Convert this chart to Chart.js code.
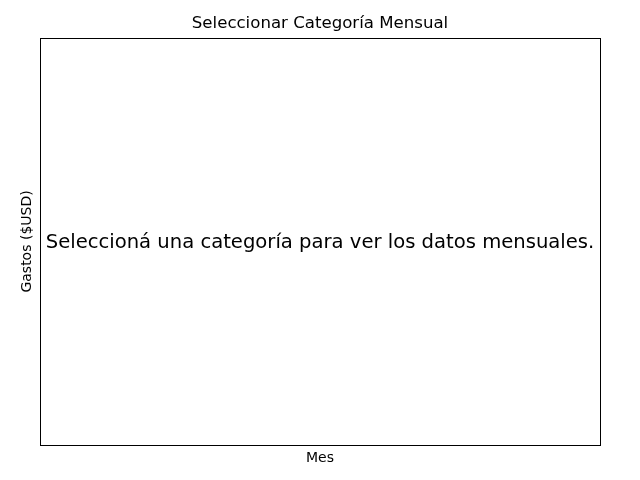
<!DOCTYPE html>
<html>
<head>
<meta charset="utf-8">
<script src="https://cdn.jsdelivr.net/npm/chart.js@4"></script>
<style>
html,body{margin:0;padding:0;background:#fff;}
#wrap{width:640px;height:480px;}
</style>
</head>
<body>
<div id="wrap"><canvas id="c" width="640" height="480"></canvas></div>
<script>
const months = [];
const expenses = [];
const chartTitle = 'Seleccionar Categoría Mensual';
const xLabel = 'Mes';
const yLabel = 'Gastos ($USD)';
const emptyMessage = 'Seleccioná una categoría para ver los datos mensuales.';

const FONT = '"DejaVu Sans", sans-serif';

const framePlugin = {
  id: 'frame',
  afterDraw(chart) {
    const {ctx, chartArea: a} = chart;
    ctx.save();
    ctx.strokeStyle = '#000';
    ctx.lineWidth = 1;
    ctx.strokeRect(Math.round(a.left) + 0.5, Math.round(a.top) + 0.5,
      Math.round(a.right - a.left), Math.round(a.bottom - a.top));
    if (expenses.length === 0) {
      ctx.fillStyle = '#000';
      ctx.font = '19.6px ' + FONT;
      ctx.textAlign = 'center';
      ctx.textBaseline = 'middle';
      ctx.fillText(emptyMessage, (a.left + a.right) / 2, (a.top + a.bottom) / 2 + 1.5);
    }
    ctx.restore();
  }
};

new Chart(document.getElementById('c'), {
  type: 'line',
  data: {
    labels: months,
    datasets: [{ label: yLabel, data: expenses, borderColor: '#1f77b4' }]
  },
  options: {
    responsive: false,
    animation: false,
    layout: { padding: 0 },
    plugins: {
      legend: { display: false },
      tooltip: { enabled: false },
      title: {
        display: true,
        text: chartTitle,
        color: '#000',
        font: { family: FONT, size: 16.6, weight: 'normal' },
        padding: { top: 14, bottom: 4 }
      }
    },
    scales: {
      x: {
        grid: { display: false, drawTicks: false },
        border: { display: false },
        ticks: { display: false },
        afterFit(scale) { scale.height = 35; },
        title: { display: true, text: xLabel, color: '#000',
          font: { family: FONT, size: 14 }, padding: { top: 0, bottom: 13.5 } }
      },
      y: {
        position: 'left',
        grid: { display: false, drawTicks: false },
        border: { display: false },
        ticks: { display: false },
        afterFit(scale) { scale.width = 40; },
        title: { display: true, text: yLabel, color: '#000',
          font: { family: FONT, size: 14 }, padding: { top: 18.5, bottom: 0 } }
      },
      y2: {
        position: 'right',
        grid: { display: false, drawTicks: false },
        border: { display: false },
        ticks: { display: false },
        afterFit(scale) { scale.width = 40; }
      }
    }
  },
  plugins: [framePlugin]
});
</script>
</body>
</html>
